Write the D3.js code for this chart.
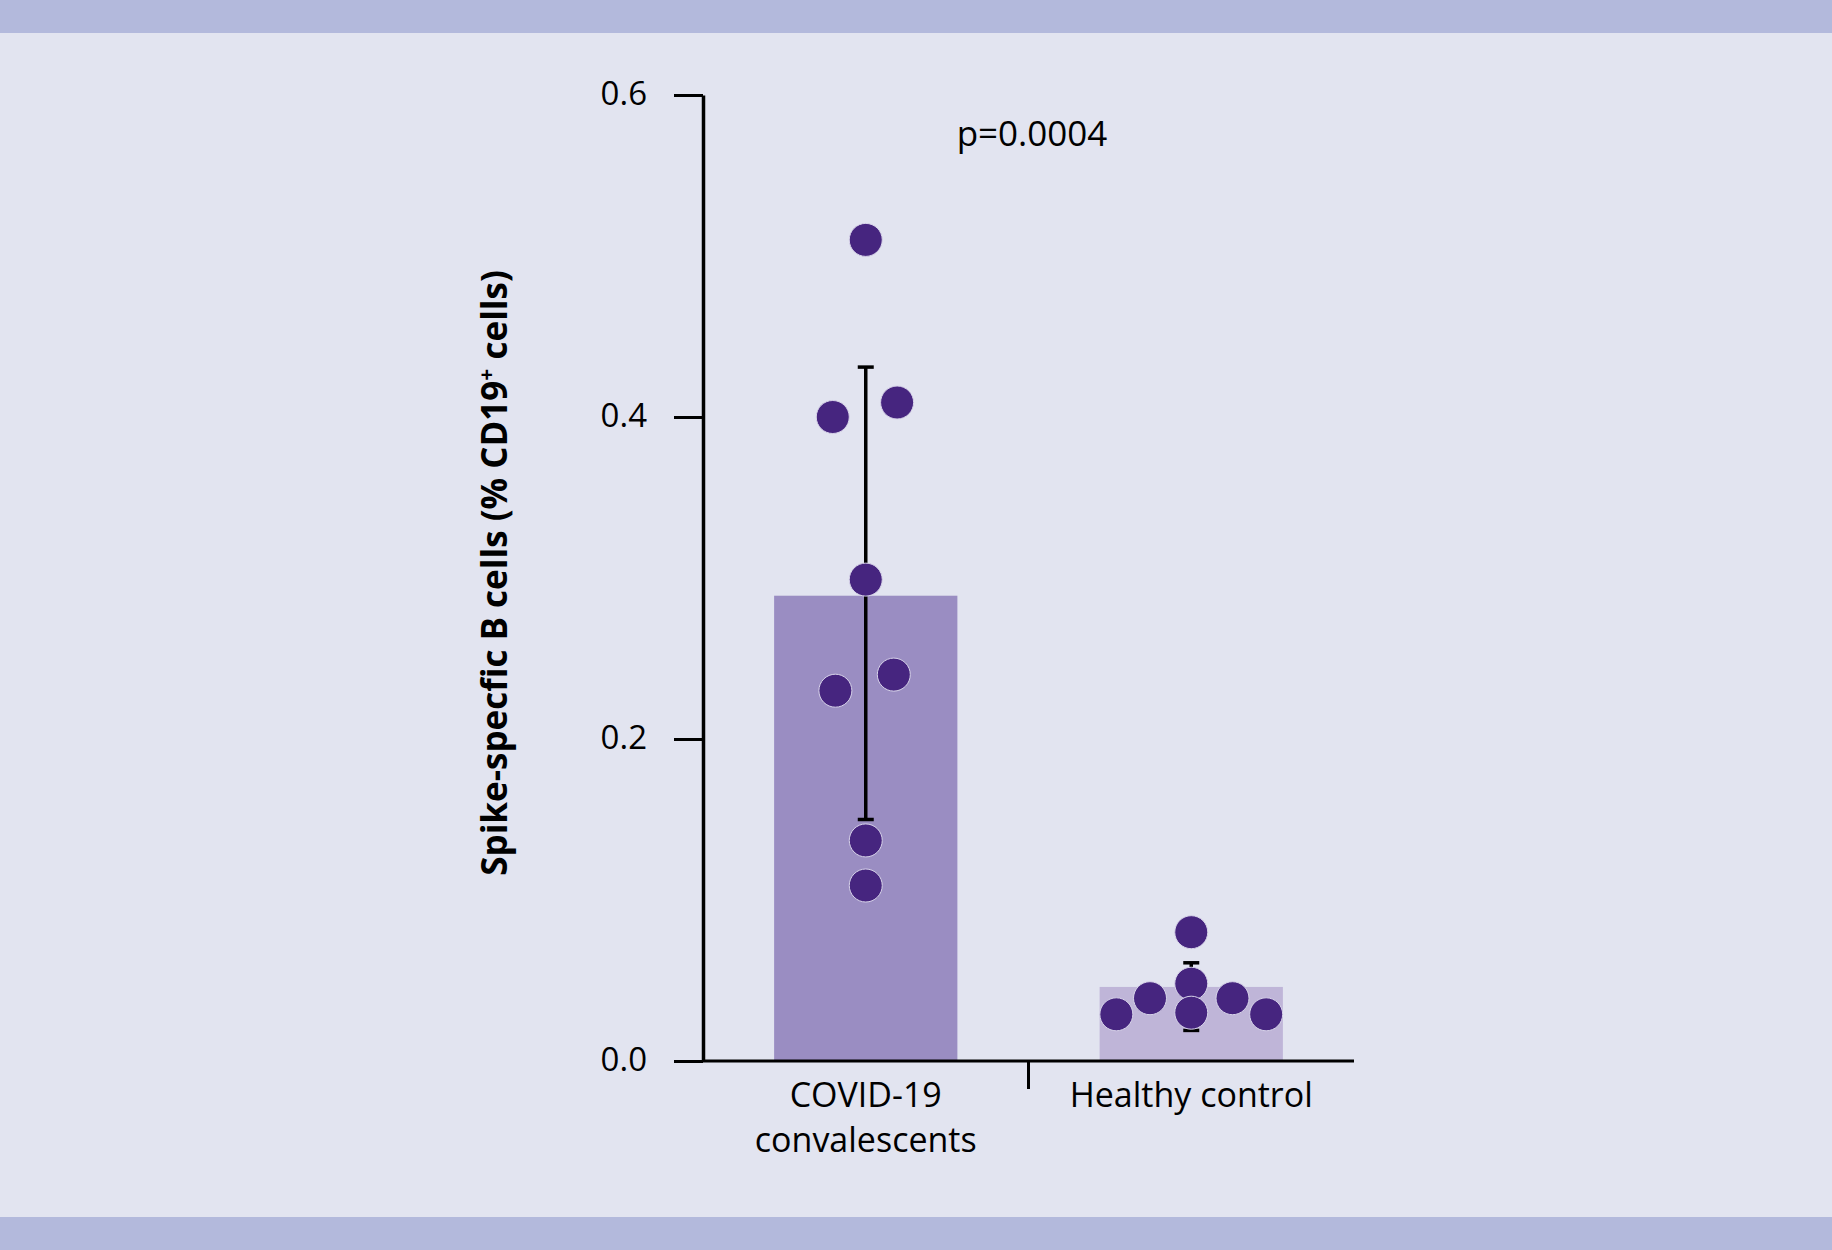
<!DOCTYPE html>
<html>
<head>
<meta charset="utf-8">
<script src="https://cdn.jsdelivr.net/npm/d3@7"></script>
<style>
  html, body { margin: 0; padding: 0; background: #e2e4f0; }
  svg { display: block; }
  text { font-family: "Open Sans", "DejaVu Sans", sans-serif; fill: #000; }
</style>
</head>
<body>
<svg id="chart" width="1832" height="1250"></svg>
<script>
// ---- data ----
const categories = ["COVID-19 convalescents", "Healthy control"];
const categoryLines = [["COVID-19", "convalescents"], ["Healthy control"]];
const barMeans = [0.289, 0.046];
const errLow = [0.150, 0.019];
const errHigh = [0.431, 0.061];
const covidValues = [0.510, 0.400, 0.409, 0.299, 0.230, 0.240, 0.137, 0.109];
const covidJitter = [0, -1.0, 0.95, 0, -0.92, 0.85, 0, 0];
const healthyValues = [0.080, 0.029, 0.039, 0.048, 0.030, 0.039, 0.029];
const healthyJitter = [0, -2.27, -1.25, 0, 0, 1.25, 2.27];
const yTicks = [0.0, 0.2, 0.4, 0.6];
const yLabel = "Spike-specfic B cells (% CD19";
const yLabelSup = "+";
const yLabelEnd = " cells)";
const pText = "p=0.0004";

// ---- layout ----
const W = 1832, H = 1250;
const svg = d3.select("#chart");
const bandColor = "#b3b9dc", bgColor = "#e2e4f0";
const barColors = ["#9a8dc2", "#bfb5d8"];
const dotColor = "#46257f";
const dotR = 16.5;

svg.append("rect").attr("width", W).attr("height", H).attr("fill", bgColor);
svg.append("rect").attr("x", 0).attr("y", 0).attr("width", W).attr("height", 33).attr("fill", bandColor);
svg.append("rect").attr("x", 0).attr("y", 1217).attr("width", W).attr("height", 33).attr("fill", bandColor);

const x0 = 703, x1 = 1354;
const y = d3.scaleLinear().domain([0, 0.6]).range([1061, 95]);
const x = d3.scalePoint().domain(categories).range([x0, x1]).padding(0.5);
const barW = x.step() * 0.563;

// bars
svg.append("g").selectAll("rect").data(categories).join("rect")
  .attr("x", d => x(d) - barW / 2)
  .attr("y", (d, i) => y(barMeans[i]))
  .attr("width", barW)
  .attr("height", (d, i) => y(0) - y(barMeans[i]))
  .attr("fill", (d, i) => barColors[i]);

// error bars
const eg = svg.append("g").attr("stroke", "#000").attr("stroke-width", 3.5);
categories.forEach((c, i) => {
  const cx = x(c);
  eg.append("line").attr("x1", cx).attr("x2", cx).attr("y1", y(errLow[i])).attr("y2", y(errHigh[i]));
  [errLow[i], errHigh[i]].forEach(v => {
    eg.append("line").attr("x1", cx - 8).attr("x2", cx + 8).attr("y1", y(v)).attr("y2", y(v));
  });
});

// dots
const groups = [
  { cat: categories[0], values: covidValues, jitter: covidJitter },
  { cat: categories[1], values: healthyValues, jitter: healthyJitter }
];
const dg = svg.append("g");
groups.forEach(g => {
  dg.selectAll(null).data(g.values).join("circle")
    .attr("cx", (d, i) => x(g.cat) + g.jitter[i] * 2 * dotR)
    .attr("cy", d => y(d))
    .attr("r", dotR)
    .attr("fill", dotColor)
    .attr("stroke", "#d8d4ea")
    .attr("stroke-width", 1);
});

// y axis
const yAxis = d3.axisLeft(y).tickValues(yTicks).tickFormat(d3.format(".1f"))
  .tickSize(29).tickSizeOuter(0).tickPadding(27);
const ya = svg.append("g").attr("transform", `translate(${x0},0)`).call(yAxis);
ya.select(".domain").attr("stroke", "#000").attr("stroke-width", 3.5);
ya.selectAll(".tick line").attr("stroke", "#000").attr("stroke-width", 3);
ya.selectAll(".tick text").attr("font-size", 33).attr("font-family", "'Open Sans', sans-serif").attr("fill", "#000").attr("dy", "0.30em");

// x axis
svg.append("line").attr("x1", x0 - 1).attr("x2", x1).attr("y1", y(0)).attr("y2", y(0))
  .attr("stroke", "#000").attr("stroke-width", 3);
const sepX = (x(categories[0]) + x(categories[1])) / 2;
svg.append("line").attr("x1", sepX).attr("x2", sepX).attr("y1", y(0)).attr("y2", y(0) + 28)
  .attr("stroke", "#000").attr("stroke-width", 3);

const xl = svg.append("g");
categories.forEach((c, i) => {
  const t = xl.append("text").attr("text-anchor", "middle").attr("font-size", 34).attr("x", x(c)).attr("y", 1107);
  categoryLines[i].forEach((ln, j) => {
    t.append("tspan").attr("x", x(c)).attr("dy", j === 0 ? 0 : 45).text(ln);
  });
});

// y label
const yl = svg.append("text")
  .attr("transform", `translate(507,573) rotate(-90)`)
  .attr("text-anchor", "middle")
  .attr("font-size", 35)
  .attr("font-weight", 700);
yl.append("tspan").text(yLabel);
yl.append("tspan").attr("dy", -13).attr("font-size", 21).text(yLabelSup);
yl.append("tspan").attr("dy", 13).text(yLabelEnd);

// p value
svg.append("text").attr("x", 1032).attr("y", 146).attr("text-anchor", "middle").attr("font-size", 35).text(pText);
</script>
</body>
</html>
